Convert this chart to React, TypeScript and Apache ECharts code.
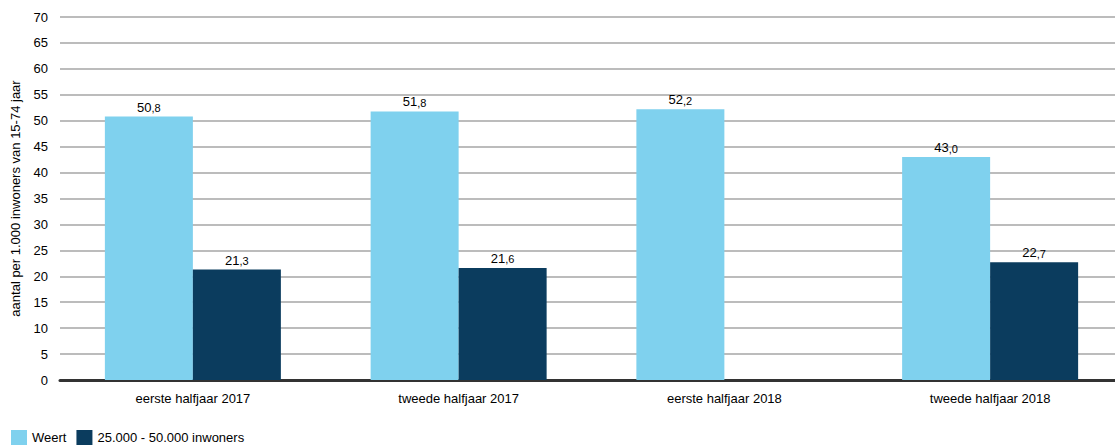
import React, { useEffect, useRef } from "react";
import * as echarts from "echarts";

const categories = ["eerste halfjaar 2017", "tweede halfjaar 2017", "eerste halfjaar 2018", "tweede halfjaar 2018"];
const weert = [50.8, 51.8, 52.2, 43.0];
const klasse = [21.3, 21.6, null, 22.7];
const seriesNames = ["Weert", "25.000 - 50.000 inwoners"];

const fmt = (p: any) => {
  if (p.value == null) return "";
  const s = Number(p.value).toFixed(1).split(".");
  return "{a|" + s[0] + "}{b|," + s[1] + "}";
};

export default function App() {
  const ref = useRef<HTMLDivElement>(null);
  useEffect(() => {
    const chart = echarts.init(ref.current!, null, { renderer: "svg" });
    const label = {
      show: true,
      position: "top",
      distance: 3,
      formatter: fmt,
      rich: {
        a: { fontSize: 13, color: "#000", fontFamily: "Liberation Sans" },
        b: { fontSize: 11, color: "#000", fontFamily: "Liberation Sans", verticalAlign: "bottom", padding: [2, 0, 0, 0] },
      },
    };
    chart.setOption({
      animation: false,
      textStyle: { fontFamily: "Liberation Sans" },
      grid: { left: 60, right: 0, top: 17, bottom: 68 },
      legend: {
        left: 6,
        bottom: -2,
        itemWidth: 16,
        itemHeight: 15,
        itemGap: 10,
        icon: "rect",
        textStyle: { fontSize: 13, color: "#000", fontFamily: "Liberation Sans" },
        data: seriesNames,
      },
      xAxis: {
        type: "category",
        data: categories,
        axisLine: { lineStyle: { color: "#333", width: 3 } },
        axisTick: { show: false },
        axisLabel: { fontSize: 13, color: "#000", margin: 12 },
      },
      yAxis: {
        type: "value",
        min: 0,
        max: 70,
        interval: 5,
        name: "aantal per 1.000 inwoners van 15-74 jaar",
        nameLocation: "middle",
        nameGap: 38,
        nameTextStyle: { fontSize: 13, color: "#000" },
        axisLabel: { fontSize: 13, color: "#000", margin: 12 },
        splitLine: { lineStyle: { color: "#a6a6a6", width: 1.5 } },
      },
      series: [
        { name: seriesNames[0], type: "bar", data: weert, barWidth: 88, barGap: "0%", itemStyle: { color: "#7fd1ee" }, label },
        { name: seriesNames[1], type: "bar", data: klasse, barWidth: 88, itemStyle: { color: "#0b3c5e" }, label },
      ],
    });
    return () => chart.dispose();
  }, []);
  return (
    <div style={{ width: 1115, height: 448, position: "absolute", left: 0, top: 0, overflow: "hidden" }}>
      <div ref={ref} style={{ width: 1123, height: 448 }} />
    </div>
  );
}
